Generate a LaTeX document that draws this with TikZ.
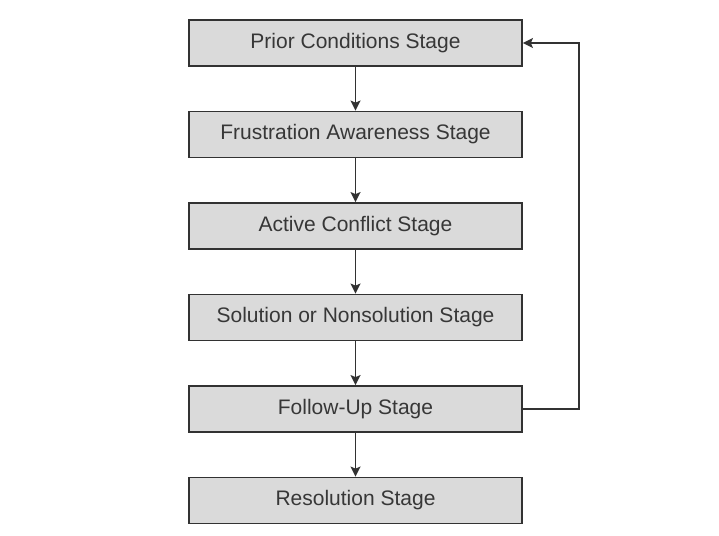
\documentclass[tikz,border=0pt]{standalone}
\usepackage{fontspec}
\setmainfont{Liberation Sans}
\usepackage{xcolor}
\definecolor{boxgray}{RGB}{218,218,218}
\definecolor{linegray}{RGB}{50,50,50}
\definecolor{textgray}{RGB}{55,55,55}
\usetikzlibrary{arrows.meta, positioning}

\begin{document}
\begin{tikzpicture}[
  >={Stealth[length=10pt, width=10pt, inset=2pt]},
  node distance=43.7pt,
  stage/.style={
    rectangle, minimum width=333pt, minimum height=46pt,
    line width=1.8pt, draw=linegray, fill=boxgray, align=center,
    font=\fontsize{21}{24}\selectfont\color{textgray}
  },
  flow/.style={->, line width=1.6pt, color=linegray}
]
\useasboundingbox[fill=white] (0pt,0pt) rectangle (719pt,-535pt);

\node[stage] (prior) at (355.5pt,-43pt) {Prior Conditions Stage};
\node[stage, below=of prior] (frustration) {Frustration Awareness Stage};
\node[stage, below=of frustration] (conflict) {Active Conflict Stage};
\node[stage, below=of conflict] (solution) {Solution or Nonsolution Stage};
\node[stage, below=of solution] (followup) {Follow-Up Stage};
\node[stage, below=of followup] (resolution) {Resolution Stage};

\draw[flow] (prior) -- (frustration);
\draw[flow] (frustration) -- (conflict);
\draw[flow] (conflict) -- (solution);
\draw[flow] (solution) -- (followup);
\draw[flow] (followup) -- (resolution);

% feedback loop back to the first stage
\coordinate[right=56pt of followup.east] (loop);
\draw[flow] (followup.east) -- (loop) |- (prior.east);
\end{tikzpicture}
\end{document}
